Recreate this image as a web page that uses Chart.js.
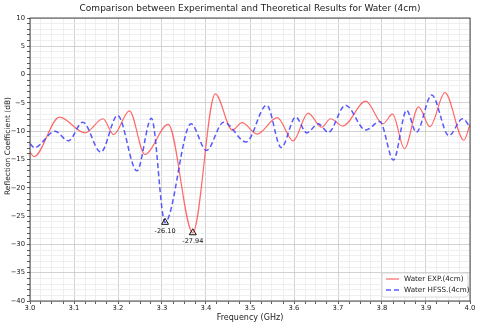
<!DOCTYPE html>
<html>
<head>
<meta charset="utf-8">
<script src="https://cdn.jsdelivr.net/npm/chart.js@4.4.1/dist/chart.umd.min.js"></script>
<style>
  html, body { margin: 0; background: #fff; }
  #contenedor { width: 480px; height: 328px; }
</style>
</head>
<body>
<div id="contenedor"><canvas id="reflexion"></canvas></div>
<script>
// Medición (EXP) y simulación (HFSS)
const freqExp = [3.000, 3.009, 3.067, 3.125, 3.166, 3.190, 3.226, 3.261, 3.314, 3.370, 3.421, 3.460, 3.482, 3.516, 3.562, 3.598, 3.632, 3.663, 3.683, 3.711, 3.763, 3.802, 3.824, 3.851, 3.883, 3.909, 3.943, 3.986, 4.000];
const dbExp = [-13.7, -14.5, -7.5, -10.3, -7.8, -10.6, -6.4, -14.1, -8.8, -27.94, -3.4, -9.8, -8.5, -10.5, -7.6, -11.7, -6.8, -9.3, -7.8, -9.1, -4.7, -8.7, -7.0, -13.1, -5.7, -9.2, -3.2, -11.6, -8.8];

const freqHfss = [3.000, 3.010, 3.057, 3.087, 3.120, 3.161, 3.199, 3.243, 3.276, 3.307, 3.366, 3.401, 3.440, 3.491, 3.538, 3.571, 3.604, 3.629, 3.655, 3.678, 3.717, 3.763, 3.795, 3.826, 3.856, 3.878, 3.913, 3.952, 3.983, 4.000];
const dbHfss = [-12.2, -12.9, -10.0, -11.7, -8.4, -13.7, -7.2, -17.0, -7.7, -26.10, -8.7, -13.4, -8.4, -11.9, -5.4, -12.9, -7.5, -10.3, -8.7, -10.2, -5.4, -9.8, -8.3, -15.1, -6.3, -10.2, -3.6, -10.8, -7.8, -9.2];

// Mínimos marcados
const minFreq = [3.307, 3.370];
const minDb = [-26.10, -27.94];

const titulo = 'Comparison between Experimental and Theoretical Results for Water (4cm)';
const etiquetaX = 'Frequency (GHz)';
const etiquetaY = 'Reflection Coefficient (dB)';

const fuente = '"DejaVu Sans", sans-serif';

const aPuntos = (xs, ys) => xs.map((v, i) => ({ x: v, y: ys[i] }));

const esMayor = (valor, paso) => Math.abs(valor / paso - Math.round(valor / paso)) < 1e-6;

const decoracion = {
  id: 'decoracion',
  afterDraw(chart) {
    const { ctx, chartArea: a, scales: { x, y } } = chart;
    ctx.save();

    // marco
    ctx.strokeStyle = '#222';
    ctx.lineWidth = 0.8;
    ctx.strokeRect(a.left, a.top, a.right - a.left, a.bottom - a.top);

    // textos de los mínimos
    ctx.fillStyle = '#111';
    ctx.font = '6.5px ' + fuente;
    ctx.textAlign = 'center';
    ctx.textBaseline = 'middle';
    minFreq.forEach((f, i) => {
      ctx.fillText(minDb[i].toFixed(2), x.getPixelForValue(f), y.getPixelForValue(minDb[i]) + 9);
    });

    // título y ejes
    ctx.fillStyle = '#222';
    ctx.font = '9px ' + fuente;
    ctx.fillText(titulo, (a.left + a.right) / 2, 9);
    ctx.font = '8px ' + fuente;
    ctx.fillText(etiquetaX, (a.left + a.right) / 2, 318);
    ctx.save();
    ctx.translate(8, 146);
    ctx.rotate(-Math.PI / 2);
    ctx.font = '7.5px ' + fuente;
    ctx.fillText(etiquetaY, 0, 0);
    ctx.restore();

    // leyenda
    const lx = a.right - 88, ly = a.bottom - 28, lw = 86, lh = 24;
    ctx.fillStyle = 'rgba(255,255,255,0.85)';
    ctx.strokeStyle = '#d0d0d0';
    ctx.lineWidth = 0.8;
    ctx.beginPath();
    ctx.roundRect(lx, ly, lw, lh, 2);
    ctx.fill();
    ctx.stroke();
    chart.data.datasets.slice(0, 2).forEach((ds, i) => {
      const fy = ly + 6 + i * 11;
      ctx.strokeStyle = ds.borderColor;
      ctx.lineWidth = ds.borderWidth;
      ctx.setLineDash(ds.borderDash || []);
      ctx.beginPath();
      ctx.moveTo(lx + 4, fy);
      ctx.lineTo(lx + 17, fy);
      ctx.stroke();
      ctx.setLineDash([]);
      ctx.fillStyle = '#222';
      ctx.font = '7.2px ' + fuente;
      ctx.textAlign = 'left';
      ctx.fillText(ds.label, lx + 22, fy);
    });
    ctx.restore();
  }
};

const ctxGrafico = document.getElementById('reflexion');

new Chart(ctxGrafico, {
  type: 'line',
  data: {
    datasets: [{
      label: 'Water EXP.(4cm)',
      data: aPuntos(freqExp, dbExp),
      borderColor: 'rgba(255, 80, 80, 0.85)',
      borderWidth: 1.2,
      pointRadius: 0,
      cubicInterpolationMode: 'monotone',
      order: 3
    }, {
      label: 'Water HFSS.(4cm)',
      data: aPuntos(freqHfss, dbHfss),
      borderColor: 'rgba(60, 60, 255, 0.85)',
      borderWidth: 1.5,
      borderDash: [5, 3],
      pointRadius: 0,
      cubicInterpolationMode: 'monotone',
      order: 2
    }, {
      label: 'mínimos',
      data: aPuntos(minFreq, minDb),
      showLine: false,
      pointStyle: 'triangle',
      pointRadius: 4,
      pointBorderColor: '#111',
      pointBackgroundColor: 'rgba(0,0,0,0)',
      pointBorderWidth: 1,
      order: 1
    }]
  },
  options: {
    responsive: true,
    maintainAspectRatio: false,
    animation: false,
    layout: {
      padding: { left: 0, top: 18, right: 10, bottom: 0 }
    },
    plugins: {
      legend: { display: false },
      title: { display: false },
      tooltip: { enabled: false }
    },
    scales: {
      x: {
        type: 'linear',
        min: 3,
        max: 4,
        afterFit: (escala) => { escala.height = 27; },
        border: { display: false },
        grid: {
          color: (c) => esMayor(c.tick.value, 0.1) ? '#c8c8c8' : '#ebebeb',
          lineWidth: 0.8,
          tickLength: 3,
          tickColor: '#333'
        },
        ticks: {
          stepSize: 0.025,
          autoSkip: false,
          maxRotation: 0,
          padding: 0,
          color: '#222',
          font: { size: 6.8, family: fuente },
          callback: (v) => esMayor(v, 0.1) ? v.toFixed(1) : ''
        }
      },
      y: {
        type: 'linear',
        min: -40,
        max: 10,
        afterFit: (escala) => { escala.width = 30; },
        border: { display: false },
        grid: {
          color: (c) => esMayor(c.tick.value, 5) ? '#c8c8c8' : '#ebebeb',
          lineWidth: 0.8,
          tickLength: 3,
          tickColor: '#333'
        },
        ticks: {
          stepSize: 1,
          autoSkip: false,
          padding: 2,
          color: '#222',
          font: { size: 6.8, family: fuente },
          callback: (v) => esMayor(v, 5) ? (v < 0 ? '\u2212' + Math.abs(v) : String(v)) : ''
        }
      }
    }
  },
  plugins: [decoracion]
});
</script>
</body>
</html>
